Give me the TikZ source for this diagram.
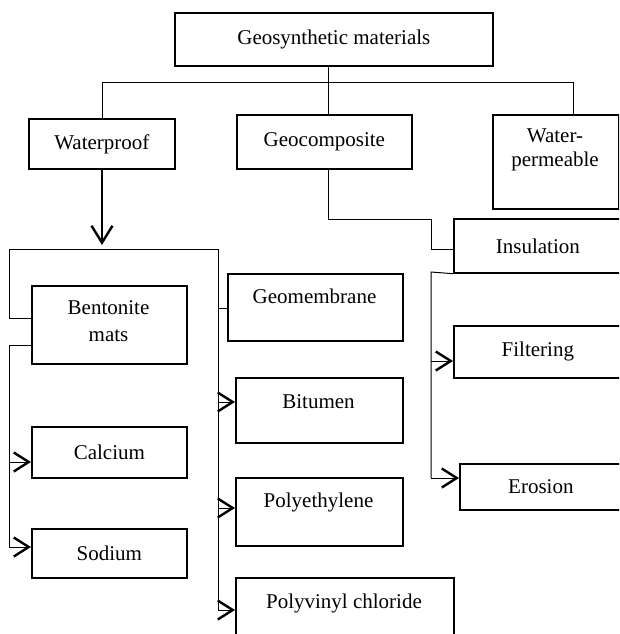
\documentclass[tikz,border=0pt]{standalone}
\usepackage{fontspec}
\setmainfont{Liberation Serif}
\usetikzlibrary{arrows.meta}
\begin{document}
\begin{tikzpicture}[x=1pt,y=-1pt,
  box/.style={draw, line width=1.7pt, inner sep=0pt, anchor=north west, align=center, font=\fontsize{21}{24}\selectfont},
  txt/.style={inner sep=0pt, align=center, font=\fontsize{21}{24}\selectfont},
  conn/.style={line width=1pt},
  arr/.style={line width=1pt, -{Straight Barb[length=15pt,width=19pt,line width=2.4pt]}},
  bigarr/.style={line width=2.2pt, -{Straight Barb[length=17pt,width=21pt,line width=2.4pt]}}]
\useasboundingbox (0,0) rectangle (619,634);
\clip (0,0) rectangle (619,634);

% boxes
\node[box, minimum width=318pt, minimum height=53pt] (gm) at (174,12) {Geosynthetic materials};
\node[box, minimum width=146pt, minimum height=50pt] (wp) at (28,118) {Waterproof};
\node[box, minimum width=175pt, minimum height=54pt] (gc) at (236,114) {Geocomposite};
\node[box, minimum width=126pt, minimum height=94pt] (wpm) at (492,114) {};
\node[txt] (wpmt) at (555,150) {Water-\\permeable};
\node[box, minimum width=168pt, minimum height=54pt] (ins) at (453,218) {Insulation};
\node[box, minimum width=155pt, minimum height=78pt] (bm) at (31,285) {};
\node[txt] (bmt) at (108.5,321) {Bentonite\\[3pt]mats};
\node[box, minimum width=175pt, minimum height=67pt] (geo) at (227,273) {};
\node[txt] (geot) at (314.5,296) {Geomembrane};
\node[box, minimum width=168pt, minimum height=52pt] (fil) at (453,325) {Filtering};
\node[box, minimum width=167pt, minimum height=65pt] (bit) at (235,377) {};
\node[txt] (bitt) at (318.5,402) {Bitumen};
\node[box, minimum width=155pt, minimum height=51pt] (ca) at (31,426) {Calcium};
\node[box, minimum width=162pt, minimum height=46pt] (ero) at (459,463) {Erosion};
\node[box, minimum width=167pt, minimum height=68pt] (pe) at (235,477) {};
\node[txt] (pet) at (318.5,502) {Polyethylene};
\node[box, minimum width=155pt, minimum height=49pt] (na) at (31,528) {Sodium};
\node[box, minimum width=218pt, minimum height=70pt] (pvc) at (235,577) {};
\node[txt] (pvct) at (344,603) {Polyvinyl chloride};

% junction points
\coordinate (j1) at (328,82);
\coordinate (jl) at (102,82);
\coordinate (jr) at (573,82);
\coordinate (b1) at (102,245);
\coordinate (bl) at (9,249);
\coordinate (br) at (218,249);
\coordinate (a1) at (9,318);
\coordinate (r1) at (218,308);
\coordinate (r2) at (218,402);
\coordinate (r3) at (218,508);
\coordinate (r4) at (218,610);
\coordinate (l1) at (9,345);
\coordinate (l2) at (9,462);
\coordinate (l3) at (9,547);
\coordinate (g1) at (328,219);
\coordinate (g2) at (431,219);
\coordinate (g3) at (431,249);
\coordinate (i1) at (431,272);
\coordinate (i2) at (431,361);
\coordinate (i3) at (431,478);

% top level
\draw[conn] (j1 |- gm.south) -- (j1 |- gc.north);
\draw[conn] (jl |- wp.north) -- (jl) -- (jr) -- (jr |- wpm.north);

% waterproof branch
\draw[bigarr] (jl |- wp.south) -- (b1);
\draw[conn] (a1 -| bm.west) -- (a1) -- (bl) -- (br) -- (r4);
\draw[conn] (r1) -- (r1 -| geo.west);
\draw[arr] (r2) -- (r2 -| bit.west);
\draw[arr] (r3) -- (r3 -| pe.west);
\draw[arr] (r4) -- (r4 -| pvc.west);
\draw[conn] (l1 -| bm.west) -- (l1) -- (l3);
\draw[arr] (l2) -- (l2 -| ca.west);
\draw[arr] (l3) -- (l3 -| na.west);

% geocomposite branch
\draw[conn] (j1 |- gc.south) -- (g1) -- (g2) -- (g3) -- (g3 -| ins.west);
\draw[conn] (ins.south west) -- (i1) -- (i3);
\draw[arr] (i2) -- (i2 -| fil.west);
\draw[arr] (i3) -- (i3 -| ero.west);
\end{tikzpicture}
\end{document}
